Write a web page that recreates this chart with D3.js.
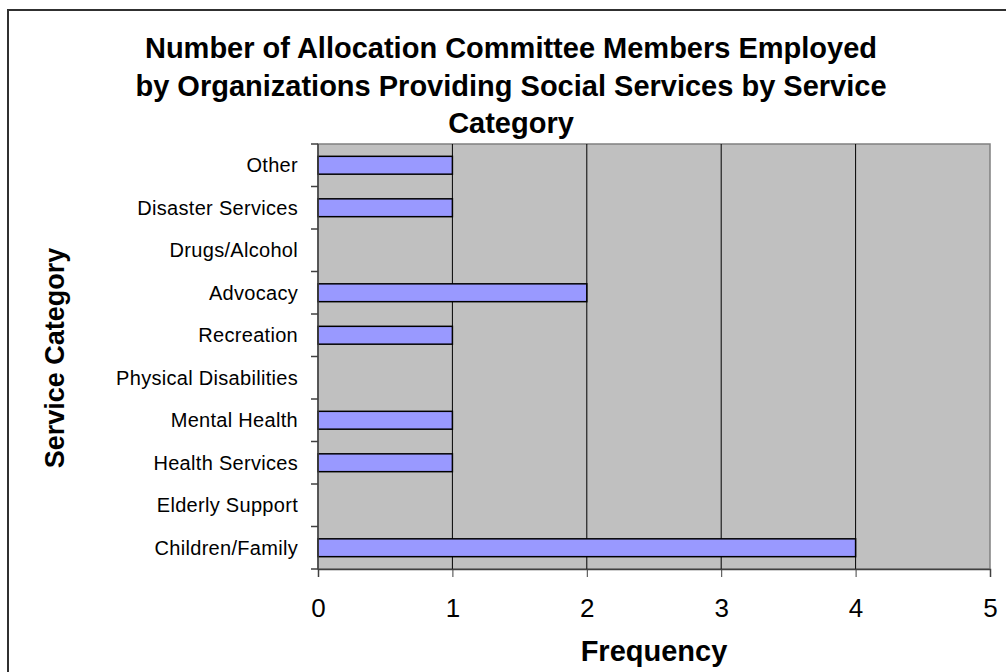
<!DOCTYPE html>
<html>
<head>
<meta charset="utf-8">
<script src="https://cdn.jsdelivr.net/npm/d3@7"></script>
<style>
  html, body { margin: 0; padding: 0; background: #fff; }
  svg { display: block; }
  text { font-family: "Liberation Sans", Arial, sans-serif; fill: #000; }
</style>
</head>
<body>
<svg id="chart" width="1006" height="672"></svg>
<script>
// Service categories, listed bottom to top
const categories = [
  "Children/Family", "Elderly Support", "Health Services", "Mental Health",
  "Physical Disabilities", "Recreation", "Advocacy", "Drugs/Alcohol",
  "Disaster Services", "Other"
];
// Number of members per category
const frequency = [4, 0, 1, 1, 0, 1, 2, 0, 1, 1];
const xTicks = [0, 1, 2, 3, 4, 5];
const titleLines = [
  "Number of Allocation Committee Members Employed",
  "by Organizations Providing Social Services by Service",
  "Category"
];

const svg = d3.select("#chart");
const plot = { left: 318, right: 990, top: 144, bottom: 569 };

// outer frame
svg.append("rect")
  .attr("x", 8).attr("y", 10).attr("width", 1040).attr("height", 700)
  .attr("fill", "#fff").attr("stroke", "#303030").attr("stroke-width", 2);

const x = d3.scaleLinear().domain([0, 5]).range([plot.left, plot.right]);
const y = d3.scaleBand().domain(categories).range([plot.bottom, plot.top]).padding(0);

// plot background
svg.append("rect")
  .attr("x", plot.left).attr("y", plot.top)
  .attr("width", plot.right - plot.left).attr("height", plot.bottom - plot.top)
  .attr("fill", "#c0c0c0").attr("stroke", "#808080").attr("stroke-width", 1.5);

// vertical gridlines
svg.append("g").selectAll("line")
  .data(xTicks.slice(1, -1))
  .join("line")
  .attr("x1", d => x(d)).attr("x2", d => x(d))
  .attr("y1", plot.top).attr("y2", plot.bottom)
  .attr("stroke", "#000").attr("stroke-width", 1);

// bars
const barH = y.bandwidth() * 0.42;
svg.append("g").selectAll("rect")
  .data(categories.map((c, i) => ({ c, v: frequency[i] })).filter(d => d.v > 0))
  .join("rect")
  .attr("x", x(0))
  .attr("y", d => y(d.c) + (y.bandwidth() - barH) / 2)
  .attr("width", d => x(d.v) - x(0))
  .attr("height", barH)
  .attr("fill", "#9999ff").attr("stroke", "#000").attr("stroke-width", 1.5);

// bottom axis
const xAxis = svg.append("g")
  .attr("transform", `translate(0,${plot.bottom})`)
  .call(d3.axisBottom(x).tickValues(xTicks).tickFormat(d3.format("d")).tickSize(8).tickPadding(22));
xAxis.select(".domain").attr("stroke", "#404040").attr("stroke-width", 1.5);
xAxis.selectAll(".tick line").attr("stroke", "#404040");
xAxis.selectAll(".tick text").attr("font-size", 26).attr("font-family", "Liberation Sans, Arial, sans-serif");

// left axis: ticks at category boundaries, labels centred in each band
const bounds = d3.range(categories.length + 1).map(i => plot.bottom - i * y.step());
const yAxis = svg.append("g");
yAxis.append("line")
  .attr("x1", plot.left).attr("x2", plot.left)
  .attr("y1", plot.top).attr("y2", plot.bottom)
  .attr("stroke", "#404040").attr("stroke-width", 1.5);
yAxis.selectAll("line.tick")
  .data(bounds)
  .join("line").attr("class", "tick")
  .attr("x1", plot.left - 7).attr("x2", plot.left)
  .attr("y1", d => d).attr("y2", d => d)
  .attr("stroke", "#404040").attr("stroke-width", 1.5);
yAxis.selectAll("text")
  .data(categories)
  .join("text")
  .attr("x", 298)
  .attr("y", d => y(d) + y.bandwidth() / 2)
  .attr("dy", "0.35em")
  .attr("text-anchor", "end")
  .attr("font-size", 20)
  .attr("letter-spacing", 0.3)
  .text(d => d);

// title
svg.append("g").selectAll("text")
  .data(titleLines)
  .join("text")
  .attr("x", 511)
  .attr("y", (d, i) => 58 + i * 37.5)
  .attr("text-anchor", "middle")
  .attr("font-size", 29)
  .attr("font-weight", "bold")
  .text(d => d);

// axis titles
svg.append("text")
  .attr("x", x(2.5)).attr("y", 661)
  .attr("text-anchor", "middle")
  .attr("font-size", 29).attr("font-weight", "bold")
  .text("Frequency");

svg.append("text")
  .attr("transform", "translate(64,358) rotate(-90)")
  .attr("text-anchor", "middle")
  .attr("font-size", 27).attr("font-weight", "bold")
  .text("Service Category");
</script>
</body>
</html>
